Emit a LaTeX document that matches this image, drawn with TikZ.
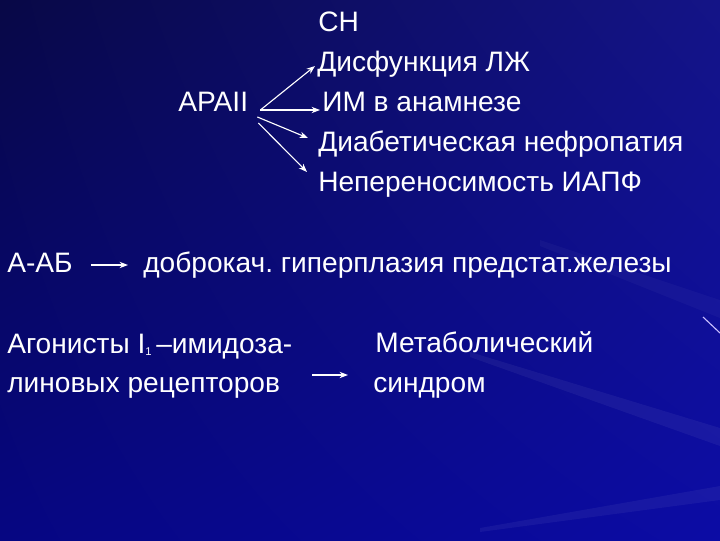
\documentclass[tikz,border=0pt]{standalone}
\usepackage{fontspec}
\setmainfont{Liberation Sans}
\frenchspacing
\usetikzlibrary{arrows.meta,shadings}
\definecolor{bgul}{RGB}{8,8,70}
\definecolor{bgur}{RGB}{20,20,135}
\definecolor{bgll}{RGB}{6,6,130}
\definecolor{bglr}{RGB}{12,12,165}
\definecolor{raycol}{RGB}{200,190,255}

\begin{document}
\begin{tikzpicture}[x=0.025cm, y=-0.025cm,
	txt/.style={anchor=base west, inner sep=0pt, text=white, font=\fontsize{20}{24}\selectfont},
	arr/.style={white, line width=0.8pt, -{Stealth[length=6pt, width=4.5pt]}}]
		%%%%% BACKGROUND %%%%%
		\useasboundingbox (0, 0) rectangle (720, 540);
		\shade[upper left=bgul, upper right=bgur, lower left=bgll, lower right=bglr] (0, 0) rectangle (720, 540);
		
		\fill[white, opacity=0.05] (470, 352) -- (720, 428) -- (720, 446) -- (470, 357) -- cycle;
		\fill[white, opacity=0.05] (480, 528) -- (720, 486) -- (720, 500) -- (480, 532) -- cycle;
		\fill[white, opacity=0.03] (540, 240) -- (720, 300) -- (720, 318) -- (540, 246) -- cycle;
		\draw[raycol, line width=0.8pt] (703, 317) -- (720, 333);
		
		%%%%% START %%%%%
		\node[txt] (sn) at (318, 31) {СН};
		\node[txt] (dis) at (317, 71) {Дисфункция ЛЖ};
		\node[txt] (im) at (322, 111) {ИМ в анамнезе};
		\node[txt] (diab) at (318, 151) {Диабетическая нефропатия};
		\node[txt] (nep) at (318, 191) {Непереносимость ИАПФ};
		
		\node[txt] (apa) at (178, 111) {APAII};
		
		\draw[arr] ([shift={(12,-1)}]apa.base east) -- ([shift={(-2,-5)}]dis.base west);
		\draw[arr] ([shift={(12,-1)}]apa.base east) -- ([shift={(-2,-1)}]im.base west);
		\draw[arr] ([shift={(9,6)}]apa.base east) -- ([shift={(-10,-13)}]diab.base west);
		\draw[arr] ([shift={(10,12)}]apa.base east) -- ([shift={(-11,-19)}]nep.base west);
		
		\node[txt] (ab) at (7, 272) {А-АБ};
		\node[txt] (dobr) at (143, 272) {доброкач. гиперплазия предстат.железы};
		\draw[arr] ([shift={(18,-7)}]ab.base east) -- ([shift={(-15,-7)}]dobr.base west);
		
		\node[txt] (agon) at (7, 353) {Агонисты I\raisebox{-1.5pt}{\fontsize{8}{8}\selectfont 1}\,–имидоза-};
		\node[txt] (lin) at (7, 392) {линовых рецепторов};
		\node[txt] (met) at (375, 352) {Метаболический};
		\node[txt] (sin) at (373, 392) {синдром};
		\draw[arr] ([shift={(32,-17)}]lin.base east) -- ([shift={(-25,-17)}]sin.base west);
		%%%%% END %%%%%
\end{tikzpicture}
\end{document}
